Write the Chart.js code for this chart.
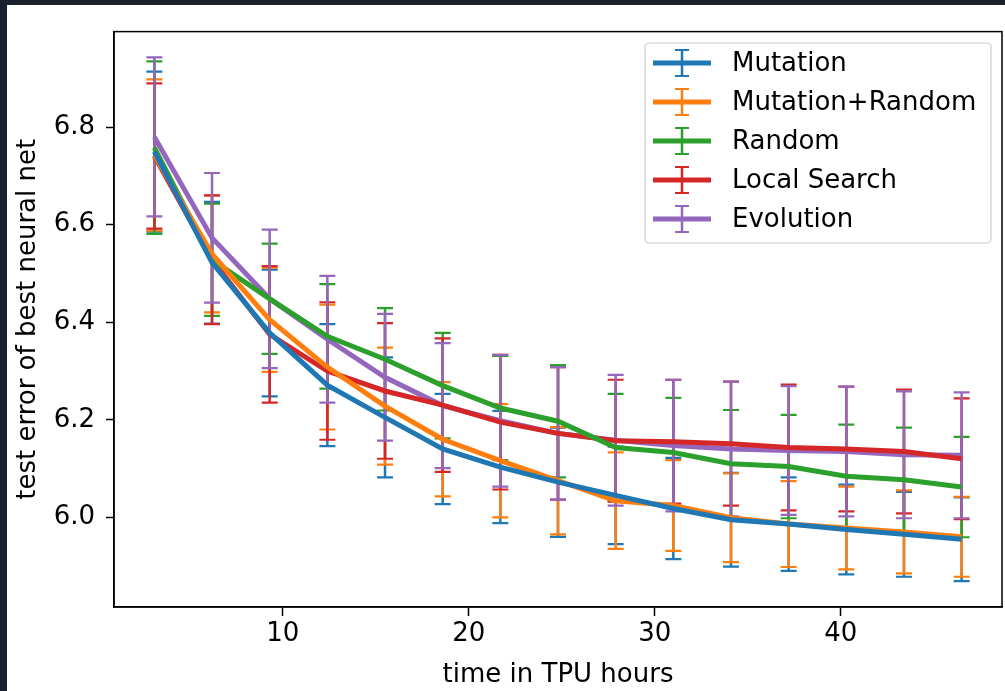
<!DOCTYPE html>
<html>
<head>
<meta charset="utf-8">
<script src="https://cdn.jsdelivr.net/npm/chart.js@4.4.0/dist/chart.umd.min.js"></script>
<style>
  html, body { margin: 0; padding: 0; background: #1b212c; width: 1005px; height: 691px; overflow: hidden; }
  #wrap { position: absolute; left: 7px; top: 5px; width: 998px; height: 686px; background: #fff; }
</style>
</head>
<body>
<div id="wrap"><canvas id="chart" width="998" height="686"></canvas></div>
<script>
// x positions (TPU hours)
const hours = [3.1, 6.2, 9.3, 12.4, 15.5, 18.6, 21.7, 24.8, 27.9, 31.0, 34.1, 37.2, 40.3, 43.4, 46.5];

const xTicks = [10, 20, 30, 40];
const yTicks = [6.0, 6.2, 6.4, 6.6, 6.8];

const seriesNames = ['Mutation', 'Mutation+Random', 'Random', 'Local Search', 'Evolution'];
const seriesColors = ['#1f77b4', '#ff7f0e', '#2ca02c', '#d62728', '#9467bd'];

// mean test error and error bar half-length for each method
const mutation = [6.750, 6.522, 6.378, 6.271, 6.205, 6.140, 6.103, 6.072, 6.045, 6.018, 5.995, 5.986, 5.975, 5.965, 5.955];
const mutationErr = [0.164, 0.125, 0.130, 0.125, 0.123, 0.113, 0.115, 0.112, 0.100, 0.104, 0.096, 0.096, 0.092, 0.087, 0.086];

const mutationRandom = [6.743, 6.540, 6.405, 6.308, 6.228, 6.160, 6.116, 6.075, 6.034, 6.024, 5.999, 5.986, 5.978, 5.970, 5.960];
const mutationRandomErr = [0.155, 0.120, 0.107, 0.128, 0.120, 0.117, 0.116, 0.110, 0.099, 0.093, 0.091, 0.088, 0.085, 0.085, 0.082];

const random = [6.758, 6.528, 6.448, 6.371, 6.324, 6.270, 6.224, 6.197, 6.143, 6.133, 6.110, 6.104, 6.084, 6.077, 6.062];
const randomErr = [0.177, 0.115, 0.113, 0.107, 0.105, 0.108, 0.107, 0.115, 0.110, 0.112, 0.110, 0.106, 0.106, 0.107, 0.103];

const localSearch = [6.741, 6.528, 6.375, 6.300, 6.259, 6.230, 6.195, 6.172, 6.157, 6.155, 6.151, 6.143, 6.140, 6.135, 6.120];
const localSearchErr = [0.149, 0.132, 0.140, 0.141, 0.139, 0.137, 0.138, 0.136, 0.125, 0.127, 0.127, 0.129, 0.128, 0.127, 0.124];

const evolution = [6.780, 6.573, 6.448, 6.365, 6.287, 6.229, 6.198, 6.172, 6.158, 6.147, 6.140, 6.137, 6.135, 6.128, 6.127];
const evolutionErr = [0.163, 0.133, 0.142, 0.130, 0.130, 0.128, 0.135, 0.136, 0.134, 0.135, 0.138, 0.132, 0.133, 0.130, 0.129];

const means = [mutation, mutationRandom, random, localSearch, evolution];
const errors = [mutationErr, mutationRandomErr, randomErr, localSearchErr, evolutionErr];

const FONT = 'DejaVu Sans';

const datasets = seriesNames.map((name, i) => ({
    label: name,
    data: hours.map((h, j) => ({ x: h, y: means[i][j] })),
    borderColor: seriesColors[i],
    backgroundColor: seriesColors[i],
    borderWidth: 5,
    pointRadius: 0,
    tension: 0,
    fill: false
}));

// error bars, drawn under all the lines
const errorBars = {
    id: 'errorBars',
    beforeDatasetsDraw(chart) {
        const ctx = chart.ctx;
        const xs = chart.scales.x, ys = chart.scales.y;
        ctx.save();
        ctx.lineCap = 'butt';
        means.forEach((m, i) => {
            ctx.strokeStyle = seriesColors[i];
            m.forEach((v, j) => {
                const px = xs.getPixelForValue(hours[j]);
                const top = ys.getPixelForValue(v + errors[i][j]);
                const bot = ys.getPixelForValue(v - errors[i][j]);
                ctx.lineWidth = 2.5;
                ctx.beginPath();
                ctx.moveTo(px, top);
                ctx.lineTo(px, bot);
                ctx.stroke();
                ctx.lineWidth = 2.2;
                ctx.beginPath();
                ctx.moveTo(px - 8, top); ctx.lineTo(px + 8, top);
                ctx.moveTo(px - 8, bot); ctx.lineTo(px + 8, bot);
                ctx.stroke();
            });
        });
        ctx.restore();
    }
};

// frame on all four sides plus matplotlib-style legend
const frameAndLegend = {
    id: 'frameAndLegend',
    afterDraw(chart) {
        const ctx = chart.ctx;
        const a = chart.chartArea;
        ctx.save();
        ctx.strokeStyle = '#000';
        ctx.lineWidth = 1.5;
        ctx.strokeRect(a.left, a.top, a.right - a.left, a.bottom - a.top);

        // legend box
        const bx = 638, by = 38, bw = 346, bh = 200;
        ctx.fillStyle = 'rgba(255,255,255,0.8)';
        ctx.strokeStyle = '#cccccc';
        ctx.lineWidth = 1.2;
        ctx.beginPath();
        ctx.roundRect(bx, by, bw, bh, 4);
        ctx.fill();
        ctx.stroke();

        ctx.font = '26px ' + FONT;
        ctx.textBaseline = 'middle';
        ctx.textAlign = 'left';
        seriesNames.forEach((name, i) => {
            const cy = 58 + i * 39;
            ctx.strokeStyle = seriesColors[i];
            ctx.lineWidth = 5;
            ctx.beginPath();
            ctx.moveTo(646, cy); ctx.lineTo(704, cy);
            ctx.stroke();
            ctx.lineWidth = 2.5;
            ctx.beginPath();
            ctx.moveTo(675, cy - 13); ctx.lineTo(675, cy + 13);
            ctx.stroke();
            ctx.lineWidth = 2.2;
            ctx.beginPath();
            ctx.moveTo(668, cy - 13); ctx.lineTo(682, cy - 13);
            ctx.moveTo(668, cy + 13); ctx.lineTo(682, cy + 13);
            ctx.stroke();
            ctx.fillStyle = '#000';
            ctx.fillText(name, 725, cy + 1);
        });
        ctx.restore();
    }
};

new Chart(document.getElementById('chart').getContext('2d'), {
    type: 'line',
    data: { datasets: datasets },
    options: {
        responsive: false,
        animation: false,
        layout: { padding: { top: 23, right: 3, left: 0, bottom: 0 } },
        plugins: {
            legend: { display: false },
            tooltip: { enabled: false }
        },
        scales: {
            x: {
                type: 'linear',
                min: 0.93,
                max: 48.67,
                afterFit: (s) => { s.height = 84; },
                afterBuildTicks: (s) => { s.ticks = xTicks.map(v => ({ value: v })); },
                grid: { drawOnChartArea: false, drawTicks: true, tickLength: 9, tickColor: '#000', tickWidth: 1.5 },
                border: { display: true, color: '#000', width: 1.5 },
                ticks: { color: '#000', font: { family: FONT, size: 26 }, padding: 3, maxRotation: 0 },
                title: { display: true, text: 'time in TPU hours', color: '#000', font: { family: FONT, size: 26 }, padding: { top: 0, bottom: 0 } }
            },
            y: {
                min: 5.816,
                max: 6.996,
                afterFit: (s) => { s.width = 107; },
                afterBuildTicks: (s) => { s.ticks = yTicks.map(v => ({ value: v })); },
                grid: { drawOnChartArea: false, drawTicks: true, tickLength: 8, tickColor: '#000', tickWidth: 1.5 },
                border: { display: true, color: '#000', width: 1.5 },
                ticks: { color: '#000', font: { family: FONT, size: 26 }, padding: 11, callback: (v) => v.toFixed(1) },
                title: { display: true, text: 'test error of best neural net', color: '#000', font: { family: FONT, size: 26 }, padding: { top: 6, bottom: 0 } }
            }
        }
    },
    plugins: [errorBars, frameAndLegend]
});
</script>
</body>
</html>
